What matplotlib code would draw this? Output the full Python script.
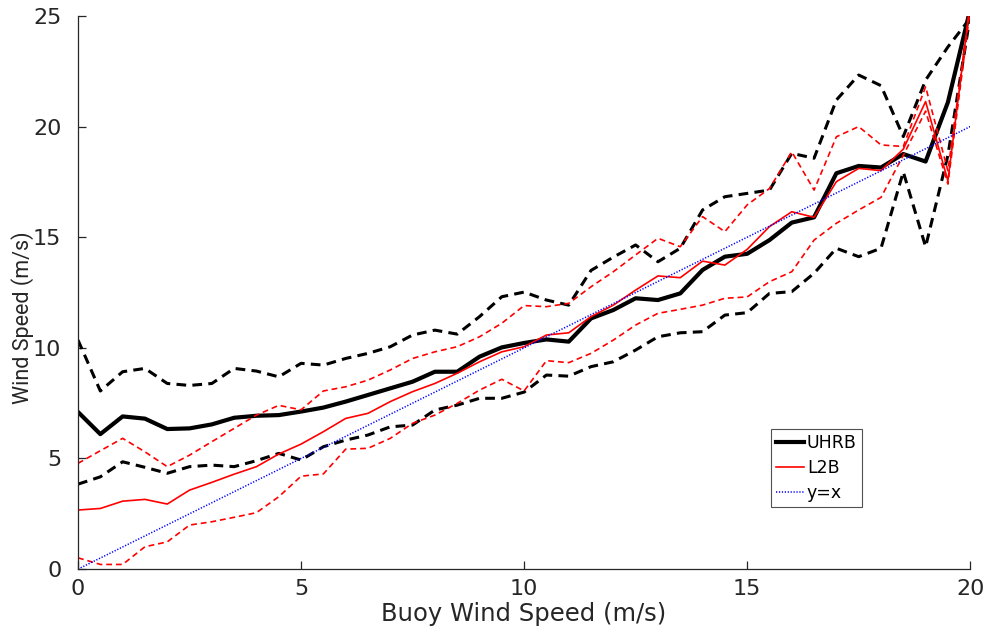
import numpy as np
import matplotlib
matplotlib.use("Agg")
from matplotlib import pyplot as plt

# buoy wind speed bins (m/s)
buoy = np.arange(0, 20.5, 0.5)

uhrb_mean = [7.10, 6.10, 6.90, 6.80, 6.33, 6.36, 6.54, 6.84, 6.93, 6.96,
             7.12, 7.30, 7.57, 7.87, 8.17, 8.47, 8.92, 8.92, 9.60, 10.02,
             10.22, 10.38, 10.28, 11.33, 11.71, 12.24, 12.16, 12.46, 13.52, 14.12,
             14.25, 14.87, 15.66, 15.90, 17.89, 18.22, 18.15, 18.76, 18.42, 21.10,
             25.30]
uhrb_hi = [10.35, 8.05, 8.92, 9.07, 8.39, 8.30, 8.39, 9.07, 8.95, 8.69,
           9.30, 9.22, 9.52, 9.75, 10.05, 10.58, 10.80, 10.62, 11.41, 12.31,
           12.52, 12.16, 11.93, 13.50, 14.10, 14.65, 13.89, 14.50, 16.23, 16.83,
           16.98, 17.13, 18.79, 18.57, 21.20, 22.33, 21.85, 19.55, 22.10, 23.60,
           24.90]
uhrb_lo = [3.84, 4.17, 4.85, 4.60, 4.33, 4.63, 4.70, 4.63, 4.90, 5.23,
           4.93, 5.53, 5.83, 6.06, 6.43, 6.51, 7.19, 7.41, 7.72, 7.72,
           8.00, 8.77, 8.72, 9.15, 9.37, 9.90, 10.50, 10.68, 10.73, 11.48,
           11.59, 12.46, 12.54, 13.37, 14.50, 14.12, 14.50, 17.95, 14.57, 18.70,
           25.00]

l2b_mean = [2.67, 2.74, 3.07, 3.15, 2.94, 3.57, 3.92, 4.29, 4.63, 5.20,
            5.65, 6.21, 6.81, 7.04, 7.57, 8.02, 8.39, 8.85, 9.37, 9.82,
            10.05, 10.58, 10.68, 11.41, 11.93, 12.61, 13.25, 13.17, 13.92, 13.74,
            14.45, 15.48, 16.15, 15.90, 17.51, 18.11, 18.01, 18.98, 21.13, 17.55,
            25.60]
l2b_hi = [4.78, 5.35, 5.91, 5.30, 4.63, 5.15, 5.76, 6.36, 6.96, 7.40,
          7.20, 8.05, 8.24, 8.54, 9.00, 9.52, 9.82, 10.05, 10.50, 11.11,
          11.91, 11.86, 12.01, 12.76, 13.44, 14.20, 14.95, 14.57, 15.93, 15.25,
          16.46, 17.20, 18.86, 17.13, 19.54, 20.00, 19.17, 19.10, 21.80, 18.00,
          25.50]
l2b_lo = [0.51, 0.21, 0.21, 1.01, 1.23, 1.99, 2.14, 2.34, 2.55, 3.27,
          4.20, 4.30, 5.42, 5.46, 5.91, 6.59, 6.96, 7.49, 8.09, 8.58,
          8.05, 9.42, 9.33, 9.75, 10.35, 11.03, 11.56, 11.74, 11.93, 12.24,
          12.30, 12.99, 13.44, 14.87, 15.63, 16.23, 16.80, 18.70, 20.70, 17.40,
          25.30]

one_to_one = [0, 20]

plt.rcParams["font.family"] = ["DejaVu Sans"]
plt.rcParams["lines.scale_dashes"] = False
ink = "#262626"

fig = plt.figure(figsize=(9.89, 6.38), dpi=100)
ax = fig.add_axes([0.0789, 0.108, 0.9021, 0.867])

h1, = ax.plot(buoy, uhrb_mean, color="k", lw=3.0, label="UHRB")
ax.plot(buoy, uhrb_hi, color="k", lw=2.2, dashes=(7, 4.5))
ax.plot(buoy, uhrb_lo, color="k", lw=2.2, dashes=(7, 4.5))
h2, = ax.plot(buoy, l2b_mean, color="#ff0000", lw=1.2, label="L2B")
ax.plot(buoy, l2b_hi, color="#ff0000", lw=1.2, dashes=(4.2, 2.8))
ax.plot(buoy, l2b_lo, color="#ff0000", lw=1.2, dashes=(4.2, 2.8))
h3, = ax.plot(one_to_one, one_to_one, color="#0000ff", lw=1.1, dashes=(0.9, 1.2), label="y=x")

ax.set_xlim(0, 20)
ax.set_ylim(0, 25)
ax.set_xticks([0, 5, 10, 15, 20])
ax.set_yticks([0, 5, 10, 15, 20, 25])
for side in ("top", "right"):
    ax.spines[side].set_visible(False)
for side in ("left", "bottom"):
    ax.spines[side].set_color(ink)
    ax.spines[side].set_linewidth(0.9)
ax.tick_params(direction="in", length=6, width=0.9, colors=ink, labelsize=16)
ax.tick_params(axis="y", pad=12)
ax.tick_params(axis="x", pad=7)

ax.set_xlabel("Buoy Wind Speed (m/s)", fontsize=17.5, color=ink, labelpad=2)
ax.set_ylabel("Wind Speed (m/s)", fontsize=15.5, color=ink,
              family=["Roboto", "DejaVu Sans"])
ax.yaxis.set_label_coords(-0.049, 0.455)

leg = ax.legend(handles=[h1, h2, h3], loc="upper left", bbox_to_anchor=(0.777, 0.253),
                prop={"size": 12.5}, frameon=True, fancybox=False, handlelength=1.6,
                handletextpad=0.15, borderpad=0.3, labelspacing=0.4, borderaxespad=0)
leg.get_frame().set_edgecolor(ink)
leg.get_frame().set_linewidth(0.8)

fig.savefig("out.png", dpi=100)
